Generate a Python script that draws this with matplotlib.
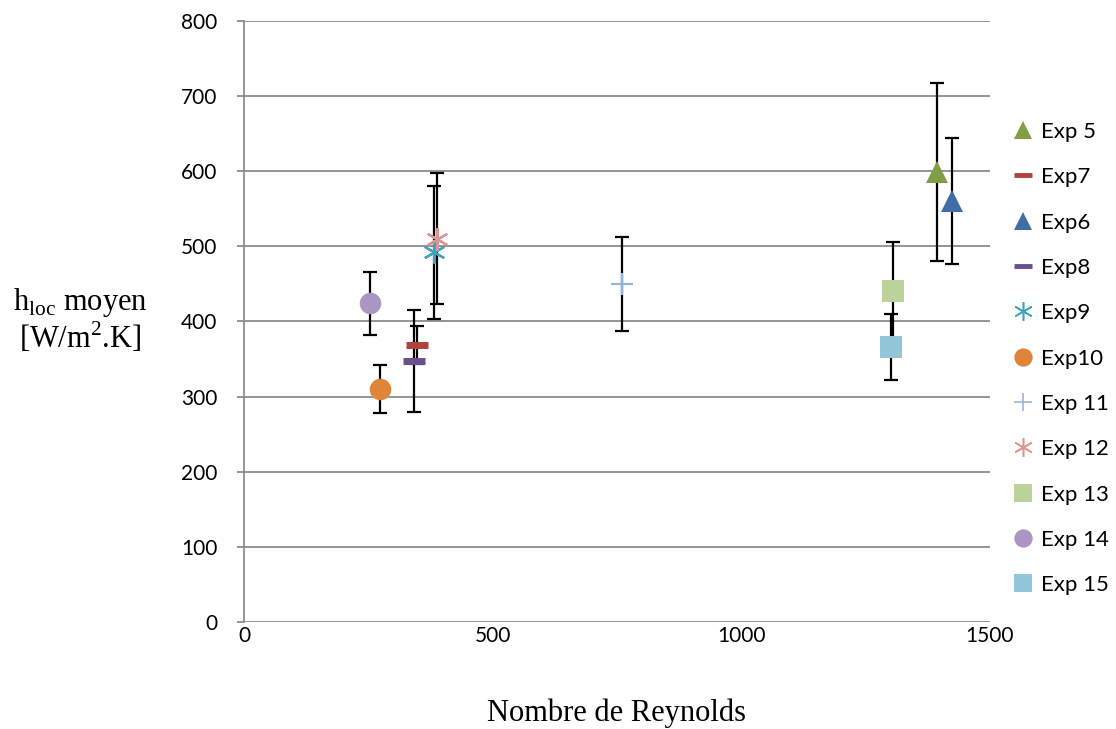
import matplotlib.pyplot as plt
from matplotlib.lines import Line2D

# values
labels = ["Exp 5", "Exp7", "Exp6", "Exp8", "Exp9", "Exp10",
          "Exp 11", "Exp 12", "Exp 13", "Exp 14", "Exp 15"]
reynolds = [1393, 348, 1424, 342, 382, 274, 760, 388, 1305, 253, 1301]
h_moyen = [599, 369, 560, 347, 492, 310, 450, 510, 440, 424, 366]
h_err = [119, 25, 84, 68, 89, 32, 62, 87, 66, 42, 44]

colors = ["#7F9F45", "#B0413E", "#3F6DA6", "#6B4F8C", "#3FA3C0", "#E0843A",
          "#95B3D7", "#D99694", "#BCD29A", "#A997C2", "#93C6D8"]
markers = ["^", "_", "^", "_", (6, 2, 0), "o", "+", (6, 2, 0), "s", "o", "s"]

plt.rcParams['font.family'] = ['Lato', 'DejaVu Sans']

fig = plt.figure(figsize=(11.16, 7.29), dpi=100)
ax = fig.add_axes([0.2186, 0.1468, 0.6684, 0.8244])

handles = []
for i in range(len(labels)):
    ax.errorbar(reynolds[i], h_moyen[i], yerr=h_err[i], fmt="none",
                ecolor="black", elinewidth=1.6, capsize=5, capthick=1.6,
                zorder=3)
    m = markers[i]
    if m == "_":
        ms, mew = 16, 5
    elif m == "+" or m == (6, 2, 0):
        ms, mew = 16, 1.6
    else:
        ms, mew = 15.5, 0
    ax.plot(reynolds[i], h_moyen[i], linestyle="none", marker=m,
            markersize=ms, color=colors[i], markeredgecolor=colors[i],
            markeredgewidth=mew, zorder=4)
    handles.append(Line2D([], [], linestyle="none", marker=m,
                          markersize=ms * 0.85, color=colors[i],
                          markeredgecolor=colors[i],
                          markeredgewidth=mew * 0.7 if mew else 0))

ax.set_xlim(0, 1500)
ax.set_ylim(0, 800)
ax.set_xticks([0, 500, 1000, 1500])
ax.set_yticks(range(0, 801, 100))
ax.yaxis.grid(True, color="#8C8C8C", linewidth=1.3)
ax.set_axisbelow(True)
for s in ["top", "right", "bottom"]:
    ax.spines[s].set_visible(False)
ax.spines["left"].set_color("#8C8C8C")
ax.spines["left"].set_linewidth(1.3)
ax.tick_params(axis="both", labelsize=15, color="#8C8C8C", length=5,
               width=1.3, pad=14)
ax.tick_params(axis="x", length=0, pad=3)

ax.set_xlabel("Nombre de Reynolds", family="Liberation Serif", fontsize=22,
              labelpad=38)
fig.text(0.072, 0.56, r"h$_{\mathregular{loc}}$ moyen" + "\n" +
         r"[W/m$^{\mathregular{2}}$.K]", family="Liberation Serif",
         fontsize=22, ha="center", va="center", linespacing=1.05)

fig.legend(handles, labels, loc="upper left", bbox_to_anchor=(0.899, 0.845),
           frameon=False, fontsize=16, handlelength=1.0, handletextpad=0.3,
           labelspacing=1.14, borderaxespad=0)

fig.savefig("out.png", dpi=100)
